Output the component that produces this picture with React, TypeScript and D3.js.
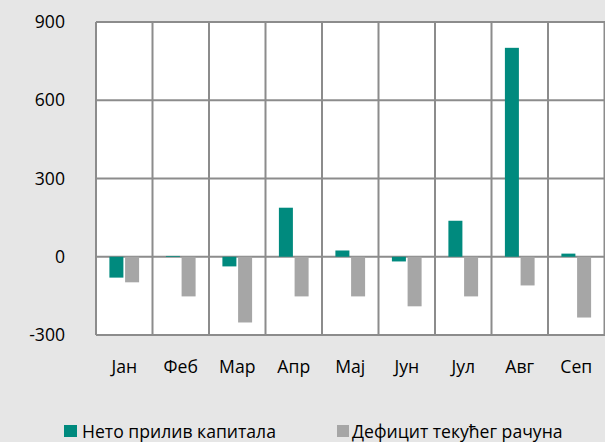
import React from "react";
import * as d3 from "d3";

const categories = ["Јан", "Феб", "Мар", "Апр", "Мај", "Јун", "Јул", "Авг", "Сеп"];
const capitalInflow = [-80, 3, -37, 188, 24, -18, 138, 801, 12];
const currentDeficit = [-98, -152, -252, -152, -152, -190, -152, -110, -233];
const yTicks = [-300, 0, 300, 600, 900];
const seriesNames = ["Нето прилив капитала", "Дефицит текућег рачуна"];
const seriesColors = ["#008a7e", "#a6a6a6"];

const W = 605, H = 442;
const left = 96, right = 604.5, top = 22, bottom = 335;
const FONT = "'Open Sans', sans-serif";
const FS = 17.6;

export default function App() {
  const x = d3.scaleBand<string>().domain(categories).range([left, right]).padding(0);
  const y = d3.scaleLinear().domain([-300, 900]).range([bottom, top]);
  const barW = 14;
  const gap = 1.7;
  const series = [capitalInflow, currentDeficit];
  const grid = "#8c8c8c";
  return (
    <svg width={W} height={H} style={{ position: "absolute", left: 0, top: 0 }}>
      <rect x={0} y={0} width={W} height={H} fill="#e6e6e6" />
      <rect x={left} y={top} width={right - left} height={bottom - top} fill="#ffffff" />
      {yTicks.map((t) => (
        <line key={"h" + t} x1={left} x2={right + 2} y1={y(t)} y2={y(t)} stroke={grid} strokeWidth={2} />
      ))}
      {categories.map((c) => (
        <line key={"v" + c} x1={x(c)!} x2={x(c)!} y1={top} y2={bottom} stroke={grid} strokeWidth={2} />
      ))}
      <line x1={right} x2={right} y1={top} y2={bottom} stroke={grid} strokeWidth={2} />
      {series.map((vals, s) =>
        vals.map((v, i) => {
          const cx = x(categories[i])! + x.bandwidth() / 2;
          const bx = s === 0 ? cx - gap / 2 - barW : cx + gap / 2;
          const y0 = y(0), y1 = y(v);
          return (
            <rect key={s + "-" + i} x={bx} width={barW} y={Math.min(y0, y1)} height={Math.abs(y1 - y0)} fill={seriesColors[s]} />
          );
        })
      )}
      {yTicks.map((t) => (
        <text key={"t" + t} x={65} y={y(t)} dy="0.35em" textAnchor="end" fontFamily={FONT} fontSize={FS} fill="#000">
          {t}
        </text>
      ))}
      {categories.map((c) => (
        <text key={"c" + c} x={x(c)! + x.bandwidth() / 2} y={373} textAnchor="middle" fontFamily={FONT} fontSize={FS} fill="#000">
          {c}
        </text>
      ))}
      <rect x={64} y={425} width={13} height={12} fill={seriesColors[0]} />
      <text x={82} y={437.5} fontFamily={FONT} fontSize={FS} fill="#000">{seriesNames[0]}</text>
      <rect x={337} y={425} width={12} height={12} fill={seriesColors[1]} />
      <text x={352} y={437.5} fontFamily={FONT} fontSize={FS} fill="#000">{seriesNames[1]}</text>
    </svg>
  );
}
